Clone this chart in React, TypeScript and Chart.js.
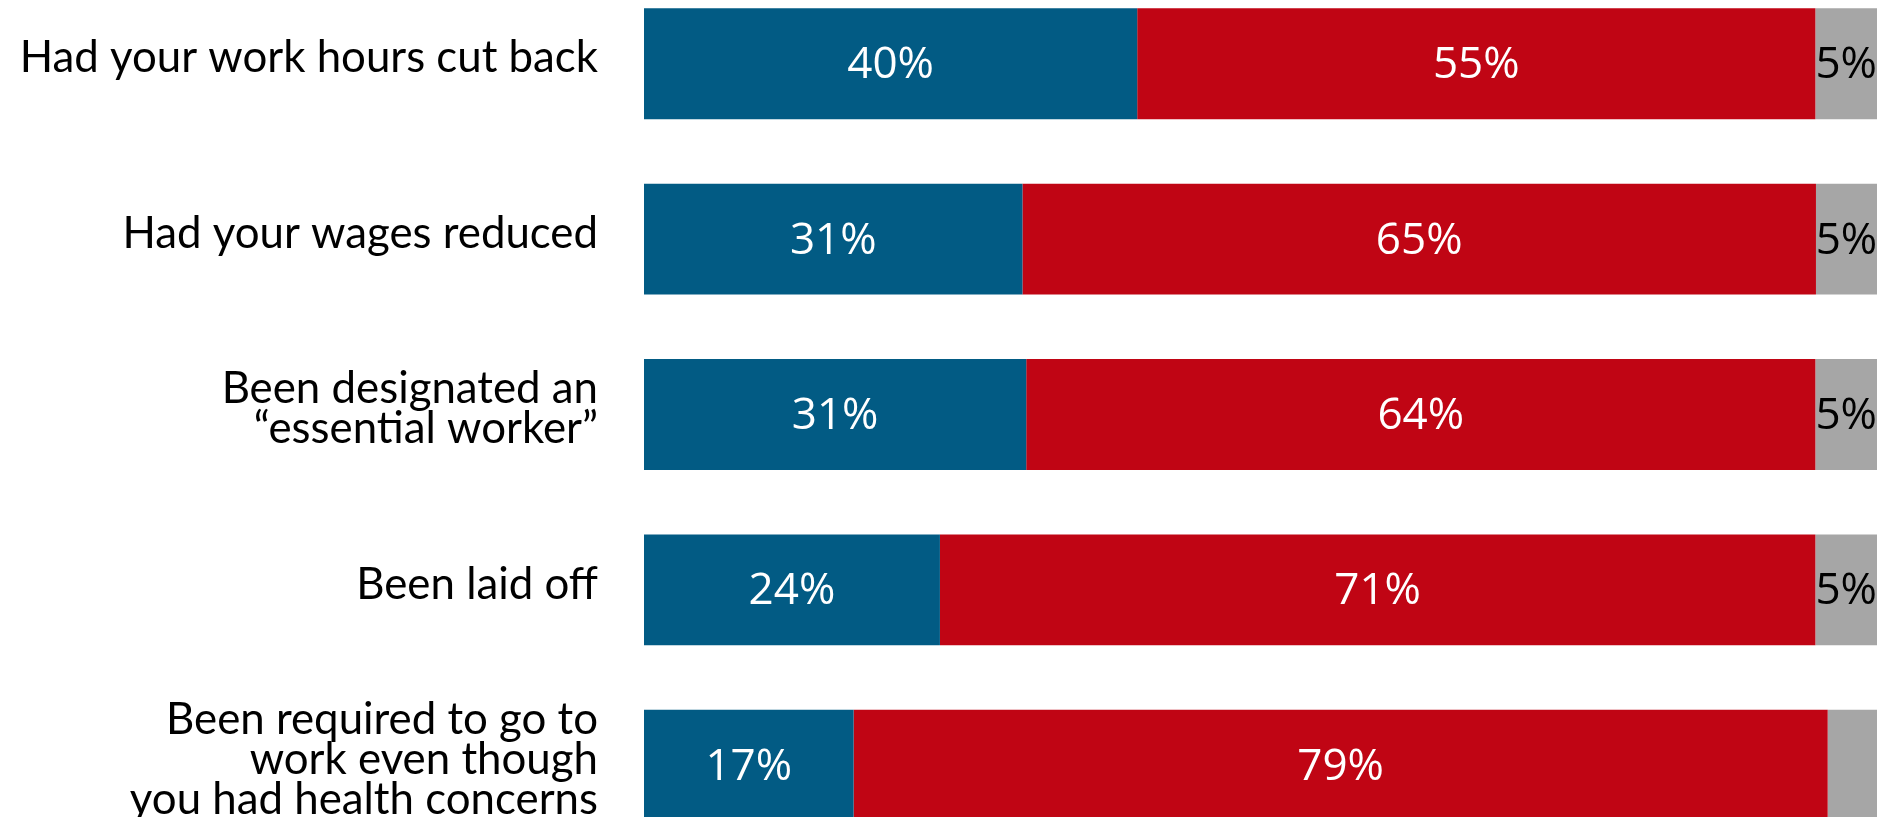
import React, { useEffect, useRef } from "react";
import { Chart, registerables } from "chart.js";

Chart.register(...registerables);

const categories: (string | string[])[] = [
  "Had your work hours cut back",
  "Had your wages reduced",
  ["Been designated an", "\u201Cessential worker\u201D"],
  "Been laid off",
  ["Been required to go to", "work even though", "you had health concerns"],
];

const yesValues = [40, 31, 31, 24, 17];
const noValues = [55, 65, 64, 71, 79];
const unsureValues = [5, 5, 5, 5, 4];

const seriesNames = ["Yes", "No", "Not sure"];
const seriesColors = ["#025B84", "#C00514", "#A6A6A6"];
const labelColors = ["#FFFFFF", "#FFFFFF", "#000000"];

const W = 1886;
const H = 877;

export default function App() {
  const ref = useRef<HTMLCanvasElement | null>(null);

  useEffect(() => {
    const canvas = ref.current;
    if (!canvas) return;
    const raw = [yesValues, noValues, unsureValues];
    const totals = yesValues.map((_, i) => raw.reduce((s, arr) => s + arr[i], 0));
    const shares = raw.map((arr) => arr.map((v, i) => (v / totals[i]) * 100));

    const valueLabels = {
      id: "valueLabels",
      afterDatasetsDraw(chart: any) {
        const ctx = chart.ctx;
        chart.data.datasets.forEach((_: any, di: number) => {
          const meta = chart.getDatasetMeta(di);
          meta.data.forEach((el: any, i: number) => {
            const v = raw[di][i];
            if (v < 5) return;
            const p = el.getCenterPoint();
            ctx.save();
            ctx.fillStyle = labelColors[di];
            ctx.font = "44px 'Open Sans'";
            ctx.textAlign = "center";
            ctx.textBaseline = "middle";
            ctx.fillText(v + "%", p.x, p.y + 2);
            ctx.restore();
          });
        });
      },
    };

    const chart = new Chart(canvas, {
      type: "bar",
      data: {
        labels: categories,
        datasets: shares.map((d, di) => ({
          label: seriesNames[di],
          data: d,
          backgroundColor: seriesColors[di],
          borderWidth: 0,
          barPercentage: 0.632,
          categoryPercentage: 1,
        })),
      },
      options: {
        indexAxis: "y",
        responsive: false,
        animation: false,
        layout: { padding: { left: 0, right: 9, top: 0, bottom: 0 } },
        plugins: {
          legend: { display: false },
          tooltip: { enabled: false },
        },
        scales: {
          x: {
            stacked: true,
            min: 0,
            max: 100,
            display: false,
          },
          y: {
            stacked: true,
            grid: { display: false, drawTicks: false },
            border: { display: false },
            afterFit(scale: any) {
              scale.width = 644;
              scale.paddingTop = 0;
              scale.paddingBottom = 0;
            },
            ticks: {
              padding: 46,
              labelOffset: -5.5,
              color: "#000000",
              font: { family: "Lato", size: 43.8, lineHeight: 0.913 },
            },
          },
        },
      },
      plugins: [valueLabels],
    });
    return () => chart.destroy();
  }, []);

  return (
    <div style={{ position: "fixed", left: 0, top: -24, width: W, height: H, background: "#fff" }}>
      <canvas ref={ref} width={W} height={H} style={{ width: W, height: H, display: "block" }} />
    </div>
  );
}
